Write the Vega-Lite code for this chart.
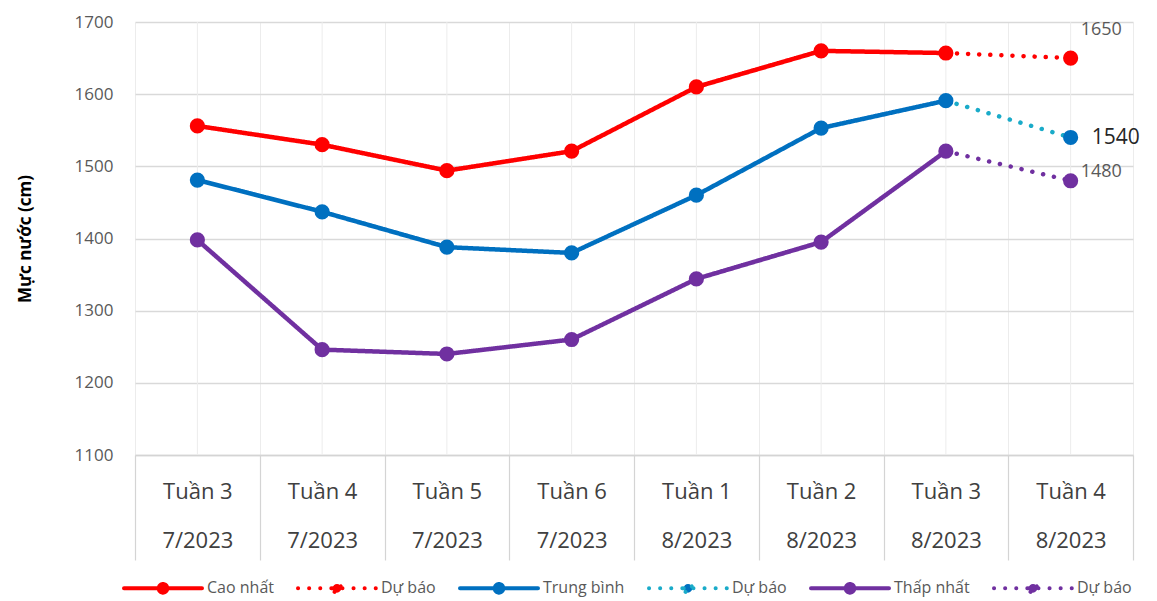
{
  "$schema": "https://vega.github.io/schema/vega-lite/v6.json",
  "width": 998,
  "height": 433,
  "autosize": "none",
  "padding": {"left": 135, "top": 22, "right": 24, "bottom": 146},
  "background": "white",
  "config": {
    "view": {"stroke": null},
    "font": "Open Sans"
  },
  "data": {
    "values": [
      {"week": "Tuần 3|7/2023", "measure": "Cao nhất", "series": "Cao nhất", "kind": "Thực đo", "value": 1556},
      {"week": "Tuần 4|7/2023", "measure": "Cao nhất", "series": "Cao nhất", "kind": "Thực đo", "value": 1530},
      {"week": "Tuần 5|7/2023", "measure": "Cao nhất", "series": "Cao nhất", "kind": "Thực đo", "value": 1494},
      {"week": "Tuần 6|7/2023", "measure": "Cao nhất", "series": "Cao nhất", "kind": "Thực đo", "value": 1521},
      {"week": "Tuần 1|8/2023", "measure": "Cao nhất", "series": "Cao nhất", "kind": "Thực đo", "value": 1610},
      {"week": "Tuần 2|8/2023", "measure": "Cao nhất", "series": "Cao nhất", "kind": "Thực đo", "value": 1660},
      {"week": "Tuần 3|8/2023", "measure": "Cao nhất", "series": "Cao nhất", "kind": "Thực đo", "value": 1657},
      {"week": "Tuần 3|8/2023", "measure": "Cao nhất", "series": "Dự báo cao nhất", "kind": "Dự báo", "value": 1657},
      {"week": "Tuần 4|8/2023", "measure": "Cao nhất", "series": "Dự báo cao nhất", "kind": "Dự báo", "value": 1650},
      {"week": "Tuần 3|7/2023", "measure": "Trung bình", "series": "Trung bình", "kind": "Thực đo", "value": 1481},
      {"week": "Tuần 4|7/2023", "measure": "Trung bình", "series": "Trung bình", "kind": "Thực đo", "value": 1437},
      {"week": "Tuần 5|7/2023", "measure": "Trung bình", "series": "Trung bình", "kind": "Thực đo", "value": 1388},
      {"week": "Tuần 6|7/2023", "measure": "Trung bình", "series": "Trung bình", "kind": "Thực đo", "value": 1380},
      {"week": "Tuần 1|8/2023", "measure": "Trung bình", "series": "Trung bình", "kind": "Thực đo", "value": 1460},
      {"week": "Tuần 2|8/2023", "measure": "Trung bình", "series": "Trung bình", "kind": "Thực đo", "value": 1553},
      {"week": "Tuần 3|8/2023", "measure": "Trung bình", "series": "Trung bình", "kind": "Thực đo", "value": 1591},
      {"week": "Tuần 3|8/2023", "measure": "Trung bình", "series": "Dự báo trung bình", "kind": "Dự báo", "value": 1591},
      {"week": "Tuần 4|8/2023", "measure": "Trung bình", "series": "Dự báo trung bình", "kind": "Dự báo", "value": 1540},
      {"week": "Tuần 3|7/2023", "measure": "Thấp nhất", "series": "Thấp nhất", "kind": "Thực đo", "value": 1398},
      {"week": "Tuần 4|7/2023", "measure": "Thấp nhất", "series": "Thấp nhất", "kind": "Thực đo", "value": 1246},
      {"week": "Tuần 5|7/2023", "measure": "Thấp nhất", "series": "Thấp nhất", "kind": "Thực đo", "value": 1240},
      {"week": "Tuần 6|7/2023", "measure": "Thấp nhất", "series": "Thấp nhất", "kind": "Thực đo", "value": 1260},
      {"week": "Tuần 1|8/2023", "measure": "Thấp nhất", "series": "Thấp nhất", "kind": "Thực đo", "value": 1344},
      {"week": "Tuần 2|8/2023", "measure": "Thấp nhất", "series": "Thấp nhất", "kind": "Thực đo", "value": 1395},
      {"week": "Tuần 3|8/2023", "measure": "Thấp nhất", "series": "Thấp nhất", "kind": "Thực đo", "value": 1521},
      {"week": "Tuần 3|8/2023", "measure": "Thấp nhất", "series": "Dự báo thấp nhất", "kind": "Dự báo", "value": 1521},
      {"week": "Tuần 4|8/2023", "measure": "Thấp nhất", "series": "Dự báo thấp nhất", "kind": "Dự báo", "value": 1480}
    ]
  },
  "encoding": {
    "x": {
      "field": "week",
      "type": "nominal",
      "sort": null,
      "scale": {"paddingInner": 0, "paddingOuter": 0},
      "axis": {
        "title": null,
        "labelAngle": 0,
        "labelExpr": "datum.value ? split(datum.value, '|') : ''",
        "labelFont": "Open Sans",
        "labelFontSize": 22,
        "labelColor": "#404040",
        "labelLineHeight": 49,
        "labelPadding": -79,
        "tickBand": "extent",
        "ticks": true,
        "tickSize": 105,
        "tickColor": "#d4d4d4",
        "tickWidth": 1.2,
        "domain": true,
        "domainColor": "#d4d4d4",
        "domainWidth": 1.5,
        "grid": true,
        "gridColor": "#ececec",
        "gridWidth": 1
      }
    },
    "y": {
      "field": "value",
      "type": "quantitative",
      "scale": {"domain": [1100, 1700], "nice": false, "zero": false},
      "axis": {
        "title": "Mực nước (cm)",
        "titleFont": "Open Sans",
        "titleFontSize": 17,
        "titleFontWeight": "bold",
        "titleColor": "#000000",
        "titleX": -110,
        "titleBaseline": "middle",
        "values": [1100, 1200, 1300, 1400, 1500, 1600, 1700],
        "format": "d",
        "labelFont": "Open Sans",
        "labelFontSize": 17,
        "labelColor": "#595959",
        "labelPadding": 22,
        "ticks": false,
        "domain": false,
        "grid": true,
        "gridColor": "#d9d9d9",
        "gridWidth": 1.5
      }
    }
  },
  "layer": [
    {
      "transform": [{"filter": "datum.measure == 'Trung bình' && (datum.kind == 'Thực đo' || datum.week == 'Tuần 4|8/2023')"}],
      "mark": {"type": "rule", "color": "#ececec", "strokeWidth": 1},
      "encoding": {"y": null}
    },
    {
      "mark": {"type": "line", "strokeWidth": 4.5, "strokeCap": "round", "strokeJoin": "round"},
      "encoding": {
        "stroke": {
          "field": "series",
          "type": "nominal",
          "scale": {
            "domain": ["Cao nhất", "Dự báo cao nhất", "Trung bình", "Dự báo trung bình", "Thấp nhất", "Dự báo thấp nhất"],
            "range": ["#ff0000", "#ff0000", "#0070c0", "#1aabc9", "#7030a0", "#7030a0"]
          },
          "legend": {
            "title": null,
            "orient": "none",
            "legendX": -13,
            "legendY": 525,
            "direction": "horizontal",
            "columns": 6,
            "gridAlign": "each",
            "labelExpr": "indexof(datum.label, 'Dự báo') == 0 ? 'Dự báo' : datum.label",
            "labelFont": "Open Sans",
            "labelFontSize": 16,
            "labelColor": "#595959",
            "labelOffset": 3,
            "columnPadding": 16,
            "symbolType": "M-1,0L1,0M-0.11,0A0.11,0.11 0 1,1 0.11,0A0.11,0.11 0 1,1 -0.11,0Z",
            "symbolSize": 6084,
            "symbolStrokeWidth": 4,
            "encode": {
              "symbols": {
                "update": {
                  "fill": {"scale": "fill", "field": "value"},
                  "strokeCap": {"value": "round"}
                }
              }
            }
          }
        },
        "strokeDash": {
          "field": "series",
          "type": "nominal",
          "scale": {
            "domain": ["Cao nhất", "Dự báo cao nhất", "Trung bình", "Dự báo trung bình", "Thấp nhất", "Dự báo thấp nhất"],
            "range": [[1, 0], [0.1, 11], [1, 0], [0.1, 11], [1, 0], [0.1, 11]]
          },
          "legend": {
            "title": null,
            "orient": "none",
            "legendX": -13,
            "legendY": 525,
            "direction": "horizontal",
            "columns": 6,
            "gridAlign": "each",
            "labelExpr": "indexof(datum.label, 'Dự báo') == 0 ? 'Dự báo' : datum.label",
            "labelFont": "Open Sans",
            "labelFontSize": 16,
            "labelColor": "#595959",
            "labelOffset": 3,
            "columnPadding": 16,
            "symbolType": "M-1,0L1,0M-0.11,0A0.11,0.11 0 1,1 0.11,0A0.11,0.11 0 1,1 -0.11,0Z",
            "symbolSize": 6084,
            "symbolStrokeWidth": 4,
            "encode": {
              "symbols": {
                "update": {
                  "fill": {"scale": "fill", "field": "value"},
                  "strokeCap": {"value": "round"}
                }
              }
            }
          }
        }
      }
    },
    {
      "transform": [{"filter": "datum.kind == 'Thực đo' || datum.week == 'Tuần 4|8/2023'"}],
      "mark": {"type": "circle", "size": 230, "opacity": 1},
      "encoding": {
        "fill": {
          "field": "series",
          "type": "nominal",
          "scale": {
            "domain": ["Cao nhất", "Dự báo cao nhất", "Trung bình", "Dự báo trung bình", "Thấp nhất", "Dự báo thấp nhất"],
            "range": ["#ff0000", "#ff0000", "#0070c0", "#0070c0", "#7030a0", "#7030a0"]
          },
          "legend": null
        }
      }
    },
    {
      "transform": [{"filter": "datum.series == 'Dự báo cao nhất' && datum.week == 'Tuần 4|8/2023'"}],
      "mark": {"type": "text", "align": "left", "baseline": "middle", "dx": 10, "dy": -28, "fontSize": 18, "font": "Open Sans", "color": "#595959"},
      "encoding": {"text": {"field": "value", "type": "quantitative"}}
    },
    {
      "transform": [{"filter": "datum.series == 'Dự báo trung bình' && datum.week == 'Tuần 4|8/2023'"}],
      "mark": {"type": "text", "align": "left", "baseline": "middle", "dx": 21, "dy": 1, "fontSize": 21, "font": "Open Sans", "color": "#262626"},
      "encoding": {"text": {"field": "value", "type": "quantitative"}}
    },
    {
      "transform": [{"filter": "datum.series == 'Dự báo thấp nhất' && datum.week == 'Tuần 4|8/2023'"}],
      "mark": {"type": "text", "align": "left", "baseline": "middle", "dx": 10, "dy": -9, "fontSize": 18, "font": "Open Sans", "color": "#595959"},
      "encoding": {"text": {"field": "value", "type": "quantitative"}}
    }
  ]
}
